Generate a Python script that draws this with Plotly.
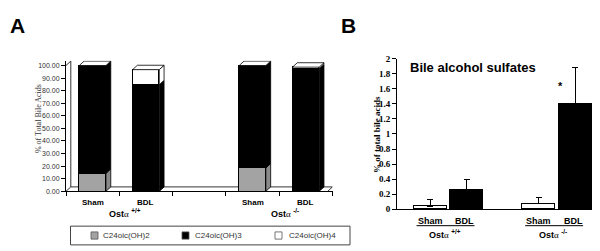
import plotly.graph_objects as go

# ---------------- data ----------------
# Panel A: % of total bile acids (stacked)
a_positions = [0, 1, 3, 4]
a_labels = ["Sham", "BDL", "Sham", "BDL"]
series_names = ["C24oic(OH)2", "C24oic(OH)3", "C24oic(OH)4"]
oh2 = [14.3, 0.3, 18.6, 0.4]
oh3 = [85.7, 84.4, 81.4, 97.0]
oh4 = [0.0, 12.0, 0.0, 1.3]
a_series = [oh2, oh3, oh4]

# Panel B: bile alcohol sulfates (% of total bile acids)
b_sham_pos = [0, 3]
b_bdl_pos = [1, 4]
sham_mean = [0.04, 0.07]
sham_err = [0.09, 0.09]
bdl_mean = [0.255, 1.40]
bdl_err = [0.14, 0.49]
genotypes = ["+/+", "-/-"]
group_centers = [0.5, 3.5]
b_ticks = [0, 0.2, 0.4, 0.6, 0.8, 1, 1.2, 1.4, 1.6, 1.8, 2]

W, H = 600, 251
def py(p):
    return 1 - p / H
def px(p):
    return p / W

SANS = "Liberation Sans, Arial"
SERIF = "Liberation Serif, Times New Roman"
face_colors = ["#a3a3a3", "#000000", "#ffffff"]
side_colors = ["#8a8a8a", "#000000", "#ffffff"]

fig = go.Figure()

# Panel A front faces
for name, vals, col in zip(series_names, a_series, face_colors):
    fig.add_trace(go.Bar(
        x=a_positions, y=vals, name=name, width=0.5,
        marker=dict(color=col, line=dict(color="black", width=1)),
        xaxis="x", yaxis="y", showlegend=False, hoverinfo="skip"))

# Panel B bars
fig.add_trace(go.Bar(
    x=b_sham_pos, y=sham_mean, width=0.91, name="Sham",
    marker=dict(color="white", line=dict(color="black", width=1)),
    error_y=dict(type="data", array=sham_err, arrayminus=[0] * len(sham_err),
                 symmetric=False, color="black", thickness=1, width=3),
    xaxis="x2", yaxis="y2", showlegend=False))
fig.add_trace(go.Bar(
    x=b_bdl_pos, y=bdl_mean, width=0.91, name="BDL",
    marker=dict(color="black", line=dict(color="black", width=1)),
    error_y=dict(type="data", array=bdl_err, arrayminus=[0] * len(bdl_err),
                 symmetric=False, color="black", thickness=1, width=3),
    xaxis="x2", yaxis="y2", showlegend=False))

shapes = []
# 3D depth for panel A
dx, dy, hw = 0.09, 3.5, 0.25
for i, p in enumerate(a_positions):
    base = 0.0
    for s, vals in enumerate(a_series):
        top = base + vals[i]
        if vals[i] > 0:
            r = p + hw
            shapes.append(dict(type="path", xref="x", yref="y",
                               path=f"M {r},{base} L {r+dx},{base+dy} L {r+dx},{top+dy} L {r},{top} Z",
                               fillcolor=side_colors[s], line=dict(color="black", width=0.8)))
        base = top
    l, r = p - hw, p + hw
    shapes.append(dict(type="path", xref="x", yref="y",
                       path=f"M {l},{base} L {r},{base} L {r+dx},{base+dy} L {l+dx},{base+dy} Z",
                       fillcolor="white", line=dict(color="black", width=0.8)))

# floor and left wall
shapes.append(dict(type="path", xref="x", yref="y", layer="below",
                   path=f"M -0.5,0 L {-0.5+dx},{dy} L 4.5,{dy} M {4.5-dx},0 L 4.5,{dy}",
                   line=dict(color="black", width=0.8)))
shapes.append(dict(type="path", xref="x", yref="y", layer="below",
                   path=f"M -0.5,100 L {-0.5+dx},{100+dy} L {-0.5+dx},{dy}",
                   line=dict(color="black", width=0.8)))

# underline of Sham BDL in panel B
for gc in group_centers:
    shapes.append(dict(type="line", xref="x2", yref="paper",
                       x0=gc - 0.88, x1=gc + 0.72, y0=py(221.5), y1=py(221.5),
                       line=dict(color="black", width=1)))

# legend box (panel A)
shapes.append(dict(type="rect", xref="paper", yref="paper",
                   x0=px(62.5), x1=px(342), y0=py(241.5), y1=py(222),
                   line=dict(color="#444", width=1), fillcolor="rgba(0,0,0,0)"))
leg_x = [83, 174, 267]
leg_tx = [93, 185, 279]
annotations = []
for name, col, sx, tx in zip(series_names, face_colors, leg_x, leg_tx):
    shapes.append(dict(type="rect", xref="paper", yref="paper",
                       x0=px(sx), x1=px(sx + 7), y0=py(235.5), y1=py(228),
                       fillcolor=col, line=dict(color="#555", width=0.8)))
    annotations.append(dict(text=name, xref="paper", yref="paper", x=px(tx), y=py(232),
                            xanchor="left", yanchor="middle", showarrow=False,
                            font=dict(family=SANS, size=8, color="#333")))

# panel letters
annotations.append(dict(text="<b>A</b>", xref="paper", yref="paper", x=px(9), y=py(13),
                        xanchor="center", yanchor="middle", showarrow=False,
                        font=dict(family=SANS, size=21, color="black")))
annotations.append(dict(text="<b>B</b>", xref="paper", yref="paper", x=px(340), y=py(13),
                        xanchor="center", yanchor="middle", showarrow=False,
                        font=dict(family=SANS, size=21, color="black")))

# panel A axis title
annotations.append(dict(text="% of Total Bile Acids", xref="paper", yref="paper",
                        x=px(30.5), y=py(110), textangle=-90, showarrow=False,
                        xanchor="center", yanchor="middle",
                        font=dict(family=SERIF, size=8, color="#333")))

# panel A category + genotype labels
for p, lab in zip(a_positions, a_labels):
    annotations.append(dict(text=f"<b>{lab}</b>", xref="x", yref="paper", x=p, y=py(197),
                            showarrow=False, xanchor="center", yanchor="middle",
                            font=dict(family=SANS, size=8, color="black")))
for gc, g in zip(group_centers, genotypes):
    annotations.append(dict(text=f"<b>Ost</b><span style='font-family:Liberation Serif'>α</span> <sup><b>{g}</b></sup>",
                            xref="x", yref="paper", x=gc + 0.1, y=py(208),
                            showarrow=False, xanchor="center", yanchor="middle",
                            font=dict(family=SANS, size=9, color="black")))

# panel B labels
annotations.append(dict(text="<b>Bile alcohol sulfates</b>", xref="paper", yref="paper",
                        x=px(400), y=py(57), xanchor="left", yanchor="middle", showarrow=False,
                        font=dict(family=SANS, size=13, color="black")))
annotations.append(dict(text="<b>*</b>", xref="x2", yref="y2", x=3.6, y=1.64,
                        xanchor="center", yanchor="middle", showarrow=False,
                        font=dict(family=SANS, size=11, color="black")))
annotations.append(dict(text="<b>% of total bile acids</b>", xref="paper", yref="paper",
                        x=px(369), y=py(127), textangle=-90, showarrow=False,
                        xanchor="center", yanchor="middle",
                        font=dict(family=SERIF, size=9, color="black")))
for gc in group_centers:
    annotations.append(dict(text="<b>Sham</b>", xref="x2", yref="paper", x=gc - 0.5, y=py(217),
                            showarrow=False, xanchor="center", yanchor="middle",
                            font=dict(family=SANS, size=9, color="black")))
    annotations.append(dict(text="<b>BDL</b>", xref="x2", yref="paper", x=gc + 0.45, y=py(217),
                            showarrow=False, xanchor="center", yanchor="middle",
                            font=dict(family=SANS, size=9, color="black")))
for gc, g in zip(group_centers, genotypes):
    annotations.append(dict(text=f"<b>Ost</b><span style='font-family:Liberation Serif'>α</span> <sup><b>{g}</b></sup>",
                            xref="x2", yref="paper", x=gc - 0.1, y=py(230),
                            showarrow=False, xanchor="center", yanchor="middle",
                            font=dict(family=SANS, size=9, color="black")))

fig.update_layout(
    width=W, height=H, margin=dict(l=0, r=0, t=0, b=0),
    paper_bgcolor="white", plot_bgcolor="white",
    barmode="stack", bargap=0,
    shapes=shapes, annotations=annotations,
    xaxis=dict(domain=[px(58), px(324.5)], range=[-0.5, 4.5], showgrid=False, zeroline=False,
               showline=True, linecolor="black", linewidth=1, showticklabels=False,
               tickvals=[-0.5, 0.5, 1.5, 2.5, 3.5, 4.5], ticks="outside", ticklen=4,
               tickcolor="black", tickwidth=0.8),
    yaxis=dict(domain=[py(185.7), py(49.7)], range=[0, 103.8], showgrid=False, zeroline=False,
               showline=True, linecolor="black", linewidth=1, ticks="outside", ticklen=4,
               tickcolor="black", tickwidth=0.8, dtick=10, tick0=0, tickformat=".2f",
               tickfont=dict(family=SANS, size=7, color="#333")),
    xaxis2=dict(domain=[px(389), px(599)], range=[-0.92, 4.88], showgrid=False, zeroline=False,
                showline=True, linecolor="black", linewidth=1, showticklabels=False,
                tickvals=[4.87], ticks="outside", ticklen=4, tickcolor="black", anchor="y2"),
    yaxis2=dict(domain=[py(204.3), py(47.7)], range=[0, 2], showgrid=False, zeroline=False,
                showline=True, linecolor="black", linewidth=1, ticks="outside", ticklen=4,
                tickcolor="black", anchor="x2",
                tickvals=b_ticks, ticktext=[f"<b>{t:g}</b>" for t in b_ticks],
                tickfont=dict(family=SERIF, size=9, color="black")),
)
fig.write_html("out.html")
